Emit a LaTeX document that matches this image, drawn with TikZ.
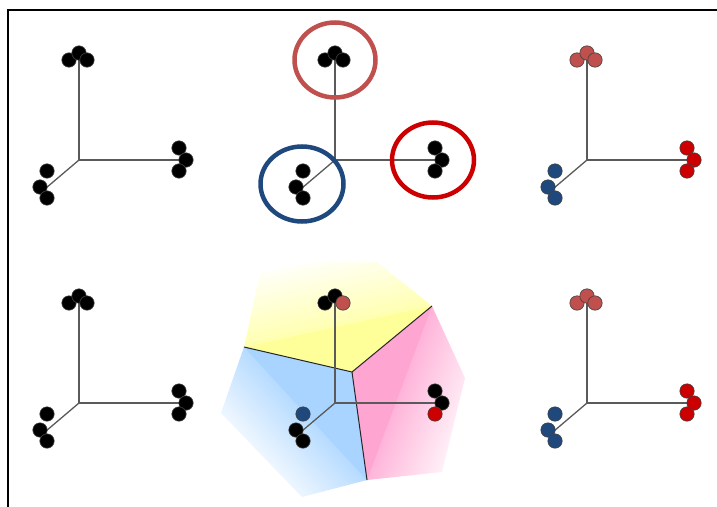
\documentclass[tikz,border=0pt]{standalone}
\usetikzlibrary{calc}
\definecolor{rosered}{HTML}{C0504D}
\definecolor{brightred}{HTML}{CC0000}
\definecolor{navyblue}{HTML}{1F497D}
\definecolor{axisgray}{HTML}{5A5A5A}
\definecolor{yel}{HTML}{FFFF99}
\definecolor{yelout}{HTML}{FFFFB0}
\definecolor{pnk}{HTML}{FFA5D2}
\definecolor{pnkout}{HTML}{FFB4D9}
\definecolor{blu}{HTML}{A8D4FF}
\definecolor{bluout}{HTML}{B6DBFF}
\pgfdeclareverticalshading{pinkfade}{100bp}{color(0bp)=(white); color(29bp)=(white); color(50bp)=(pnkout); color(100bp)=(pnkout)}
\pgfdeclareverticalshading{bluefade}{100bp}{color(0bp)=(white); color(30bp)=(white); color(50bp)=(bluout); color(100bp)=(bluout)}
\pgfdeclareverticalshading{yellowfade}{100bp}{color(0bp)=(white); color(31bp)=(white); color(50bp)=(yelout); color(100bp)=(yelout)}
\tikzset{
  axisline/.style={draw=axisgray, line width=1.3pt},
  dot/.style={draw=black!75, line width=0.6pt},
  ring/.style={line width=4.5pt},
  border/.style={draw=black, line width=1.8pt},
  edge/.style={draw=black!85, line width=1pt}
}
% \panelgroup{topL}{topM}{topR}{rT}{rM}{rB}{lT}{lM}{lB}
\newcommand\panelgroup[9]{%
    \draw[axisline] (0,0) -- (0,-100);
    \draw[axisline] (0,0) -- (114,0);
    \draw[axisline] (0,0) -- (-33,28);
    \filldraw[dot,fill=#1] (-10,-100) circle[radius=7.2pt];
    \filldraw[dot,fill=#2] (0,-107) circle[radius=7.2pt];
    \filldraw[dot,fill=#3] (8,-100) circle[radius=7.2pt];
    \filldraw[dot,fill=#4] (100,-12) circle[radius=7.2pt];
    \filldraw[dot,fill=#5] (107,0) circle[radius=7.2pt];
    \filldraw[dot,fill=#6] (100,11) circle[radius=7.2pt];
    \filldraw[dot,fill=#7] (-32,11) circle[radius=7.2pt];
    \filldraw[dot,fill=#8] (-39,27) circle[radius=7.2pt];
    \filldraw[dot,fill=#9] (-32,38) circle[radius=7.2pt];}
\begin{document}
\begin{tikzpicture}[x=1pt,y=-1pt]
\useasboundingbox (0,0) rectangle (717,506);
\fill[white] (0,0) rectangle (717,506);
\draw[border] (8,520) -- (8,10) -- (730,10);
% Voronoi regions
\coordinate (c) at (352,372);
\coordinate (yl) at (244,347);
\coordinate (pr) at (432,306);
\coordinate (bm) at (367,480);
% yellow
\begin{scope}
\clip (yl) -- (260,273) -- (320,262) -- (377,262) -- (pr) -- (c) -- cycle;
\shade[shading=yellowfade, shading angle=192.3] (238,226.5) rectangle (438,426.5);
\fill[yel] (yl) -- (pr) -- (c) -- cycle;
\end{scope}
% pink
\begin{scope}
\clip (pr) -- (465,378) -- (442,472) -- (bm) -- (c) -- cycle;
\shade[shading=pinkfade, shading angle=69.1] (299.5,293) rectangle (499.5,493);
\fill[pnk] (pr) -- (bm) -- (c) -- cycle;
\end{scope}
% blue
\begin{scope}
\clip (yl) -- (c) -- (bm) -- (302,497) -- (221,413) -- cycle;
\shade[shading=bluefade, shading angle=-47.2] (205.5,313.5) rectangle (405.5,513.5);
\fill[blu] (yl) -- (c) -- (bm) -- cycle;
\end{scope}
\draw[edge] (yl) -- (c) -- (pr);
\draw[edge] (c) -- (bm);
% panels
\begin{scope}[shift={(79,160)}]
\panelgroup{black}{black}{black}{black}{black}{black}{black}{black}{black}
\end{scope}
\begin{scope}[shift={(335,160)}]
\panelgroup{black}{black}{black}{black}{black}{black}{black}{black}{black}
\end{scope}
\begin{scope}[shift={(587,160)}]
\panelgroup{rosered}{rosered}{rosered}{brightred}{brightred}{brightred}{navyblue}{navyblue}{navyblue}
\end{scope}
\begin{scope}[shift={(79,403)}]
\panelgroup{black}{black}{black}{black}{black}{black}{black}{black}{black}
\end{scope}
\begin{scope}[shift={(335,403)}]
\panelgroup{black}{black}{rosered}{black}{black}{brightred}{navyblue}{black}{black}
\end{scope}
\begin{scope}[shift={(587,403)}]
\panelgroup{rosered}{rosered}{rosered}{brightred}{brightred}{brightred}{navyblue}{navyblue}{navyblue}
\end{scope}
% cluster rings
\draw[ring, rosered] (335,60) ellipse[x radius=40.5pt, y radius=37.5pt];
\draw[ring, navyblue] (302,184) ellipse[x radius=41.5pt, y radius=37.5pt];
\draw[ring, brightred] (433,160) ellipse[x radius=41pt, y radius=37.5pt];
\end{tikzpicture}
\end{document}
